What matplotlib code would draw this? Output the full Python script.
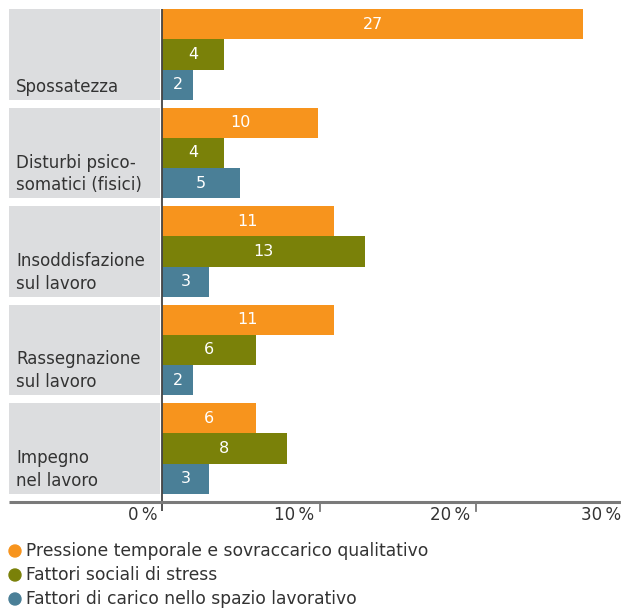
import matplotlib
matplotlib.use("Agg")
import matplotlib.pyplot as plt

# data
categories = [
    "Spossatezza",
    "Disturbi psico-\nsomatici (fisici)",
    "Insoddisfazione\nsul lavoro",
    "Rassegnazione\nsul lavoro",
    "Impegno\nnel lavoro",
]
series_names = [
    "Pressione temporale e sovraccarico qualitativo",
    "Fattori sociali di stress",
    "Fattori di carico nello spazio lavorativo",
]
pressione = [27, 10, 11, 11, 6]
sociali = [4, 4, 13, 6, 8]
carico = [2, 5, 3, 2, 3]
x_ticks = [0, 10, 20, 30]
x_tick_labels = ["0\u2009%", "10\u2009%", "20\u2009%", "30\u2009%"]

colours = ["#F7941D", "#7A8109", "#4A7F97"]
panel_col = "#DCDDDF"
text_col = "#333333"

plt.rcParams["font.family"] = ["DejaVu Sans"]

W, H = 621, 609
fig = plt.figure(figsize=(W / 100, H / 100), dpi=100)

# axes placed in pixel units: left 9, right 621, top 9, bottom (axis line) 502
ax_l, ax_r, ax_t, ax_b = 9, 621, 9, 502
ax = fig.add_axes([ax_l / W, 1 - ax_b / H, (ax_r - ax_l) / W, (ax_b - ax_t) / H])

px_per_unit = 15.6  # pixels per percent
zero_px = 162
xmin = -(zero_px - ax_l) / px_per_unit
xmax = (ax_r - zero_px) / px_per_unit
group_px = 98.5
ymax = (ax_b - ax_t) / group_px
ax.set_xlim(xmin, xmax)
ax.set_ylim(ymax, 0)
ax.axis("off")

bar_h = 30.3 / group_px
panel_h = 3 * bar_h

all_series = [pressione, sociali, carico]
for i, cat in enumerate(categories):
    # grey panel behind the category label
    ax.barh(i, -2 / px_per_unit - xmin, left=xmin, height=panel_h,
            align="edge", color=panel_col, linewidth=0)
    ax.text(xmin + 7 / px_per_unit, i + panel_h - 4 / group_px, cat,
            ha="left", va="bottom", fontsize=12, color=text_col,
            linespacing=1.35)
    for j, vals in enumerate(all_series):
        y0 = i + j * bar_h
        ax.barh(y0, vals[i], left=0, height=bar_h, align="edge",
                color=colours[j], linewidth=0)
        ax.text(vals[i] / 2, y0 + bar_h / 2, str(vals[i]), ha="center",
                va="center", color="white", fontsize=11.5)

# zero line and bottom axis line
ax.plot([0, 0], [0, ymax + 9 / group_px], color="#444444", lw=1.3,
        clip_on=False, solid_capstyle="butt")
ax.plot([xmin, xmax], [ymax, ymax], color="#7A7A7A", lw=2.2,
        clip_on=False, solid_capstyle="butt")
for t, lab in zip(x_ticks, x_tick_labels):
    if t > 0:
        ax.plot([t + 1.5 / px_per_unit] * 2, [ymax, ymax + 9 / group_px],
                color="#7A7A7A", lw=1.3, clip_on=False)
    xr = min(t - 4 / px_per_unit, xmax)
    ax.text(xr, ymax + 13 / group_px, lab, ha="right", va="center",
            fontsize=12, color=text_col, clip_on=False)

# legend as dots and text
for j, name in enumerate(series_names):
    yp = 1 - (551 + j * 24) / H
    fig.text(26 / W, yp, name, ha="left", va="center", fontsize=12.3,
             color=text_col)
    fig.patches.append(matplotlib.patches.Circle(
        (15, H - (551 + j * 24)), 6, color=colours[j],
        transform=None, figure=fig))

fig.savefig("out.png", dpi=100)
